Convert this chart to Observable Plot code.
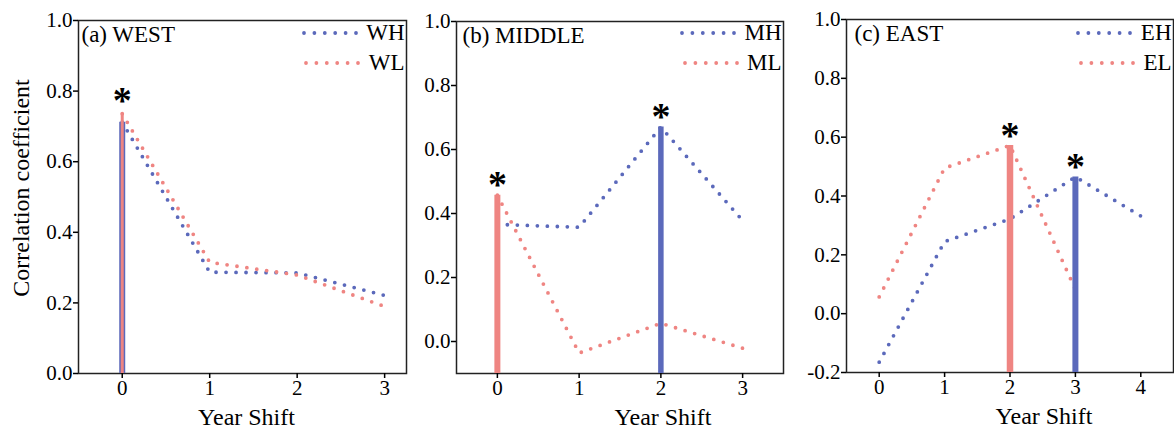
<!DOCTYPE html>
<html><head><meta charset="utf-8">
<script src="https://cdn.jsdelivr.net/npm/d3@7"></script>
<script src="https://cdn.jsdelivr.net/npm/@observablehq/plot@0.6"></script>
<style>
body{margin:0;background:#fff;}
#chart{position:relative;width:1174px;height:429px;overflow:hidden;background:#fff;font-family:"Liberation Serif","Times New Roman",Times,"Nimbus Roman","DejaVu Serif",serif;color:#000;}
.panel{position:absolute;top:0;}
.legend{position:absolute;font-size:23px;line-height:23px;}
.row{display:flex;align-items:center;justify-content:flex-end;height:30px;}
.row svg{margin-right:8.5px;overflow:visible;}
</style></head><body><div id="chart"></div>
<script>
// ---- data ----
const shiftsWest = [0, 1, 2, 3];
const shiftsMiddle = [0, 1, 2, 3];
const shiftsEast = [0, 1, 2, 3, 4];
const WH = [0.712, 0.287, 0.285, 0.221];
const WL = [0.736, 0.315, 0.279, 0.19];
const MH = [0.366, 0.357, 0.67, 0.378];
const ML = [0.457, -0.036, 0.057, -0.021];
const EH = [-0.165, 0.245, 0.322, 0.465, 0.332];
const EL = [0.057, 0.495, 0.572, 0.082];
// significant (starred) peaks: series name and year shift
const peakSeries = ["WH", "WL", "ML", "MH", "EL", "EH"];
const peakShift = [0, 0, 0, 2, 2, 3];
const yTicksWest = [0, 0.2, 0.4, 0.6, 0.8, 1.0];
const yTicksMiddle = [0, 0.2, 0.4, 0.6, 0.8, 1.0];
const yTicksEast = [-0.2, 0, 0.2, 0.4, 0.6, 0.8, 1.0];

const seriesValues = {WH, WL, MH, ML, EH, EL};
const BLUE = "#5b69bb", PINK = "#ef8582";
const colorOf = n => n.endsWith("H") ? BLUE : PINK;
const FONT = "'Liberation Serif', 'Times New Roman', Times, 'Nimbus Roman', 'DejaVu Serif', serif";

function makePanel(cfg) {
  const {names, shifts, xDomain, yDomain, yTicks, title, left, width, ml, mr, mt, mb, titleDx, labelDx, yLabel, stemW, starDy} = cfg;
  const marks = [];
  marks.push(Plot.frame({stroke: "#222", strokeWidth: 1.5}));
  marks.push(Plot.axisY({ticks: yTicks, tickSize: 5, tickPadding: 1, tickFormat: d => d.toFixed(1), fontSize: 21, fontFamily: FONT, label: null, strokeWidth: 1.5}));
  marks.push(Plot.axisX({ticks: shifts, tickSize: 5, tickPadding: 2, tickFormat: d => String(d), fontSize: 21, fontFamily: FONT, label: null, strokeWidth: 1.5}));
  for (const n of names) {
    const vals = seriesValues[n];
    const data = vals.map((r, i) => ({shift: shifts[i], r}));
    marks.push(Plot.line(data, {x: "shift", y: "r", stroke: colorOf(n), strokeWidth: 3.8, strokeDasharray: "0 10", strokeLinecap: "round"}));
  }
  const stems = [];
  peakSeries.forEach((s, i) => {
    if (names.includes(s)) stems.push({name: s, shift: peakShift[i], r: seriesValues[s][shifts.indexOf(peakShift[i])]});
  });
  stems.forEach(st => {
    marks.push(Plot.ruleX([st], {x: "shift", y1: yDomain[0], y2: "r", stroke: colorOf(st.name), strokeWidth: stemW[st.name]}));
  });
  const starMap = new Map();
  stems.forEach(st => starMap.set(st.shift, Math.max(starMap.get(st.shift) ?? -Infinity, st.r)));
  const stars = [...starMap].map(([shift, r]) => ({shift, r}));
  marks.push(Plot.text(stars, {x: "shift", y: "r", text: () => "*", fontSize: 38, fontWeight: "bold", fontFamily: FONT, fill: "#000", lineAnchor: "middle", dy: starDy}));
  marks.push(Plot.text([title], {frameAnchor: "top-left", textAnchor: "start", lineAnchor: "bottom", dx: titleDx, dy: 21, fontSize: 23, fontFamily: FONT, fill: "#000"}));
  marks.push(Plot.text(["Year Shift"], {frameAnchor: "bottom", textAnchor: "middle", lineAnchor: "bottom", dx: labelDx, dy: 51, fontSize: 24, fontFamily: FONT, fill: "#000"}));
  if (yLabel) marks.push(Plot.text([yLabel], {frameAnchor: "left", textAnchor: "middle", rotate: -90, lineAnchor: "middle", dx: -57, dy: -9, fontSize: 24, fontFamily: FONT, fill: "#000"}));
  const svg = Plot.plot({
    width, height: 429, marginLeft: ml, marginRight: mr, marginTop: mt, marginBottom: mb,
    x: {domain: xDomain}, y: {domain: yDomain},
    style: {fontFamily: FONT, background: "transparent", overflow: "visible", color: "#000"},
    marks
  });
  const wrap = document.createElement("div");
  wrap.className = "panel";
  wrap.style.left = left + "px";
  wrap.style.width = width + "px";
  wrap.appendChild(svg);
  document.getElementById("chart").appendChild(wrap);
  // legend
  const frameRight = left + width - mr;
  const lg = document.createElement("div");
  lg.className = "legend";
  lg.style.right = (1174 - frameRight + 1.5) + "px";
  lg.style.top = "17.5px";
  for (const n of names) {
    const row = document.createElement("div");
    row.className = "row";
    row.innerHTML = `<svg width="56" height="6"><line x1="2" x2="54" y1="3" y2="3" stroke="${colorOf(n)}" stroke-width="3.8" stroke-linecap="round" stroke-dasharray="0 10.4"/></svg><span>${n}</span>`;
    lg.appendChild(row);
  }
  document.getElementById("chart").appendChild(lg);
}

makePanel({names: ["WH", "WL"], shifts: shiftsWest, xDomain: [-0.5, 3.25], yDomain: [0, 1], yTicks: yTicksWest,
  title: "(a) WEST", left: 0, width: 420, ml: 78, mr: 14, mt: 20, mb: 56, titleDx: 3, labelDx: 4,
  yLabel: "Correlation coefficient", stemW: {WH: 6, WL: 3}, starDy: -13});
makePanel({names: ["MH", "ML"], shifts: shiftsMiddle, xDomain: [-0.5, 3.5], yDomain: [-0.1, 1], yTicks: yTicksMiddle,
  title: "(b) MIDDLE", left: 420, width: 380, ml: 36, mr: 17, mt: 21, mb: 56, titleDx: 6, labelDx: 43,
  stemW: {MH: 5.5, ML: 6}, starDy: -10});
makePanel({names: ["EH", "EL"], shifts: shiftsEast, xDomain: [-0.5, 4.5], yDomain: [-0.2, 1], yTicks: yTicksEast,
  title: "(c) EAST", left: 800, width: 374, ml: 46, mr: 1, mt: 19, mb: 57, titleDx: 8, labelDx: 34,
  stemW: {EH: 6, EL: 6.5}, starDy: -10});
</script></body></html>
